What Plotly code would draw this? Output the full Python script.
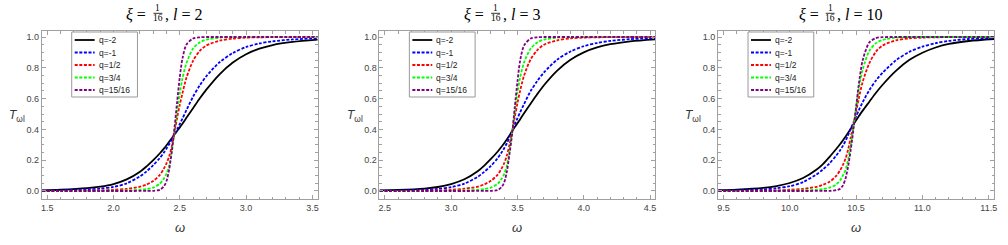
import plotly.graph_objects as go

W, H = 1008, 245

# ---------------- data ----------------
q_labels = ["q=-2", "q=-1", "q=1/2", "q=3/4", "q=15/16"]
l_values = [2, 3, 10]

omega_l2 = [1.46, 1.6, 1.8, 1.9, 2.0, 2.1, 2.2, 2.25, 2.3, 2.35, 2.38, 2.4, 2.42, 2.44, 2.46,
            2.48, 2.5, 2.52, 2.55, 2.6, 2.65, 2.7, 2.8, 2.9, 3.0, 3.1, 3.2, 3.35, 3.54]
T_l2_qm2 = [0.004, 0.008, 0.018, 0.028, 0.045, 0.075, 0.125, 0.16, 0.2, 0.245, 0.275, 0.297, 0.32, 0.343,
            0.367, 0.39, 0.413, 0.437, 0.475, 0.537, 0.6, 0.658, 0.758, 0.834, 0.888, 0.924, 0.948, 0.968, 0.983]
T_l2_qm1 = [0.002, 0.004, 0.01, 0.016, 0.026, 0.05, 0.095, 0.128, 0.168, 0.215, 0.25, 0.276, 0.303, 0.335,
            0.367, 0.4, 0.435, 0.47, 0.525, 0.612, 0.685, 0.745, 0.836, 0.896, 0.935, 0.958, 0.972, 0.984, 0.992]
T_l2_q12 = [0.0, 0.0005, 0.002, 0.004, 0.008, 0.014, 0.028, 0.042, 0.065, 0.105, 0.145, 0.18, 0.225, 0.29,
            0.38, 0.475, 0.56, 0.635, 0.735, 0.845, 0.91, 0.945, 0.976, 0.99, 0.996, 0.998, 0.999, 1.0, 1.0]
T_l2_q34 = [0.0, 0.0, 0.0005, 0.001, 0.002, 0.004, 0.008, 0.013, 0.022, 0.048, 0.08, 0.112, 0.165, 0.255,
            0.385, 0.52, 0.635, 0.73, 0.83, 0.925, 0.965, 0.983, 0.996, 0.999, 1.0, 1.0, 1.0, 1.0, 1.0]
T_l2_q1516 = [0.0, 0.0, 0.0, 0.0, 0.0, 0.0, 0.0002, 0.0005, 0.001, 0.008, 0.03, 0.065, 0.14, 0.26,
              0.41, 0.58, 0.74, 0.86, 0.95, 0.99, 0.998, 1.0, 1.0, 1.0, 1.0, 1.0, 1.0, 1.0, 1.0]

omega_l3 = [2.46, 2.6, 2.8, 2.9, 3.0, 3.1, 3.2, 3.25, 3.3, 3.35, 3.38, 3.4, 3.42, 3.44, 3.46,
            3.48, 3.5, 3.52, 3.55, 3.6, 3.65, 3.7, 3.8, 3.9, 4.0, 4.1, 4.2, 4.35, 4.54]
T_l3_qm2 = [0.004, 0.007, 0.016, 0.026, 0.045, 0.076, 0.128, 0.165, 0.208, 0.255, 0.287, 0.31, 0.335, 0.36,
            0.39, 0.415, 0.44, 0.465, 0.505, 0.568, 0.63, 0.687, 0.782, 0.852, 0.9, 0.932, 0.953, 0.972, 0.985]
T_l3_qm1 = [0.002, 0.003, 0.008, 0.014, 0.025, 0.048, 0.092, 0.124, 0.163, 0.212, 0.25, 0.278, 0.31, 0.348,
            0.39, 0.432, 0.472, 0.51, 0.565, 0.65, 0.715, 0.77, 0.853, 0.906, 0.94, 0.961, 0.975, 0.986, 0.993]
T_l3_q12 = [0.0, 0.0005, 0.002, 0.004, 0.008, 0.015, 0.028, 0.043, 0.066, 0.105, 0.145, 0.18, 0.23, 0.3,
            0.385, 0.48, 0.57, 0.65, 0.75, 0.855, 0.915, 0.95, 0.978, 0.991, 0.996, 0.998, 0.999, 1.0, 1.0]
T_l3_q34 = [0.0, 0.0, 0.0005, 0.001, 0.002, 0.004, 0.008, 0.013, 0.022, 0.046, 0.078, 0.11, 0.165, 0.26,
            0.38, 0.52, 0.64, 0.735, 0.835, 0.925, 0.965, 0.983, 0.996, 0.999, 1.0, 1.0, 1.0, 1.0, 1.0]
T_l3_q1516 = [0.0, 0.0, 0.0, 0.0, 0.0, 0.0, 0.0002, 0.0005, 0.001, 0.006, 0.025, 0.055, 0.125, 0.24,
              0.37, 0.545, 0.71, 0.845, 0.945, 0.99, 0.998, 1.0, 1.0, 1.0, 1.0, 1.0, 1.0, 1.0, 1.0]

omega_l10 = [9.46, 9.6, 9.8, 9.9, 10.0, 10.1, 10.2, 10.25, 10.3, 10.35, 10.38, 10.4, 10.42, 10.44, 10.46,
             10.48, 10.5, 10.52, 10.55, 10.6, 10.65, 10.7, 10.8, 10.9, 11.0, 11.1, 11.2, 11.35, 11.54]
T_l10_qm2 = [0.005, 0.009, 0.02, 0.032, 0.052, 0.084, 0.138, 0.175, 0.222, 0.273, 0.305, 0.328, 0.352, 0.378,
             0.405, 0.432, 0.46, 0.485, 0.522, 0.58, 0.638, 0.69, 0.78, 0.85, 0.898, 0.932, 0.955, 0.974, 0.987]
T_l10_qm1 = [0.002, 0.004, 0.01, 0.018, 0.031, 0.058, 0.107, 0.14, 0.18, 0.23, 0.265, 0.293, 0.325, 0.363,
             0.405, 0.445, 0.485, 0.523, 0.578, 0.655, 0.718, 0.768, 0.848, 0.903, 0.937, 0.96, 0.975, 0.987, 0.994]
T_l10_q12 = [0.0, 0.0005, 0.002, 0.004, 0.008, 0.014, 0.027, 0.04, 0.06, 0.098, 0.135, 0.168, 0.21, 0.27,
             0.35, 0.43, 0.515, 0.6, 0.71, 0.83, 0.905, 0.945, 0.978, 0.991, 0.996, 0.998, 0.999, 1.0, 1.0]
T_l10_q34 = [0.0, 0.0, 0.0005, 0.001, 0.002, 0.004, 0.008, 0.013, 0.022, 0.042, 0.07, 0.1, 0.135, 0.205,
             0.3, 0.415, 0.54, 0.66, 0.79, 0.91, 0.96, 0.981, 0.996, 0.999, 1.0, 1.0, 1.0, 1.0, 1.0]
T_l10_q1516 = [0.0, 0.0, 0.0, 0.0, 0.0, 0.0, 0.0002, 0.0005, 0.001, 0.005, 0.015, 0.035, 0.08, 0.16,
               0.27, 0.40, 0.545, 0.69, 0.85, 0.965, 0.993, 0.999, 1.0, 1.0, 1.0, 1.0, 1.0, 1.0, 1.0]

x_ticks_l2 = [1.5, 2.0, 2.5, 3.0, 3.5]
x_ticks_l3 = [2.5, 3.0, 3.5, 4.0, 4.5]
x_ticks_l10 = [9.5, 10.0, 10.5, 11.0, 11.5]
y_ticks = [0.0, 0.2, 0.4, 0.6, 0.8, 1.0]

# ---------------- styling ----------------
colors = ["#000000", "#0000ff", "#ff0000", "#00ff00", "#800080"]
dashes = ["solid", "3px,1.6px", "3px,1.6px", "3px,1.6px", "3px,1.6px"]
FRAME = "#a0a0a0"
TICKC = "#444444"
SANS = "Liberation Sans"
SERIF = "Liberation Serif"

panels = [
    dict(l=l_values[0], omega=omega_l2, T=[T_l2_qm2, T_l2_qm1, T_l2_q12, T_l2_q34, T_l2_q1516],
         xticks=x_ticks_l2, fl=41, tshift=0),
    dict(l=l_values[1], omega=omega_l3, T=[T_l3_qm2, T_l3_qm1, T_l3_q12, T_l3_q34, T_l3_q1516],
         xticks=x_ticks_l3, fl=380, tshift=0),
    dict(l=l_values[2], omega=omega_l10, T=[T_l10_qm2, T_l10_qm1, T_l10_q12, T_l10_q34, T_l10_q1516],
         xticks=x_ticks_l10, fl=720, tshift=-4),
]
FW = 277
FT, FB = 31, 199


def px(xp):
    return xp / W


def py(yp):
    return 1 - yp / H


fig = go.Figure()
shapes = []
annotations = []

for i, p in enumerate(panels):
    sfx = "" if i == 0 else str(i + 1)
    for j in range(len(q_labels)):
        fig.add_trace(go.Scatter(
            x=p["omega"], y=p["T"][j], mode="lines", name=q_labels[j],
            line=dict(color=colors[j], width=1.8, dash=dashes[j], shape="spline", smoothing=0.8),
            xaxis="x" + sfx, yaxis="y" + sfx, showlegend=False, hoverinfo="skip"))

    xt = p["xticks"]
    step = xt[1] - xt[0]
    pad = 0.02 * (xt[-1] - xt[0])
    fl = p["fl"]
    fig.layout["xaxis" + sfx] = dict(
        domain=[px(fl), px(fl + FW)], range=[xt[0] - pad, xt[-1] + pad], anchor="y" + sfx,
        showline=True, linecolor=FRAME, linewidth=1, mirror="ticks",
        ticks="inside", ticklen=4, tickcolor=FRAME, tickwidth=1,
        tickmode="array", tickvals=xt, ticktext=[f"{v:.1f}" for v in xt],
        minor=dict(tickmode="linear", tick0=xt[0], dtick=step / 5, ticks="inside", ticklen=2.5,
                   tickcolor=FRAME, tickwidth=1, showgrid=False),
        showgrid=False, zeroline=False,
        tickfont=dict(family=SANS, size=9, color=TICKC))
    fig.layout["yaxis" + sfx] = dict(
        domain=[py(FB), py(FT)], range=[-0.052, 1.039], anchor="x" + sfx,
        showline=True, linecolor=FRAME, linewidth=1, mirror="ticks",
        ticks="inside", ticklen=4, tickcolor=FRAME, tickwidth=1,
        tickmode="array", tickvals=y_ticks, ticktext=[f"{v:.1f}" for v in y_ticks],
        minor=dict(tickmode="linear", tick0=0, dtick=0.05, ticks="inside", ticklen=2.5,
                   tickcolor=FRAME, tickwidth=1, showgrid=False),
        showgrid=False, zeroline=False,
        tickfont=dict(family=SANS, size=9, color=TICKC))

    # axis labels
    annotations.append(dict(text="<i>T</i><sub>ωl</sub>", x=px(fl - 35), y=py(116), xref="paper", yref="paper",
                            xanchor="left", yanchor="middle", showarrow=False,
                            font=dict(family=SANS, size=12, color="#333")))
    annotations.append(dict(text="<i>ω</i>", x=px(fl + FW / 2), y=py(227), xref="paper", yref="paper",
                            xanchor="center", yanchor="middle", showarrow=False,
                            font=dict(family=SANS, size=13, color="#333")))

    # title: ξ = 1/16, l = ...
    ts = p["tshift"]
    tfont = dict(family=SERIF, size=16, color="#000")
    annotations.append(dict(text="<i>ξ</i> = ", x=px(fl + 111 + ts), y=py(14), xref="paper", yref="paper",
                            xanchor="right", yanchor="middle", showarrow=False, font=tfont))
    annotations.append(dict(text="1", x=px(fl + 116.5 + ts), y=py(8.3), xref="paper", yref="paper",
                            xanchor="center", yanchor="middle", showarrow=False,
                            font=dict(family=SERIF, size=9.5, color="#000")))
    annotations.append(dict(text="16", x=px(fl + 116.5 + ts), y=py(18.2), xref="paper", yref="paper",
                            xanchor="center", yanchor="middle", showarrow=False,
                            font=dict(family=SERIF, size=9.5, color="#000")))
    shapes.append(dict(type="line", xref="paper", yref="paper", x0=px(fl + 112 + ts), x1=px(fl + 121 + ts),
                       y0=py(13.3), y1=py(13.3), line=dict(color="#000", width=0.8)))
    annotations.append(dict(text=f", <i>l</i> = {p['l']}", x=px(fl + 121.5 + ts), y=py(14), xref="paper",
                            yref="paper", xanchor="left", yanchor="middle", showarrow=False, font=tfont))

    # legend box
    lx0, lx1, ly0, ly1 = fl + 30, fl + 96, 32, 97
    shapes.append(dict(type="rect", xref="paper", yref="paper", x0=px(lx0), x1=px(lx1), y0=py(ly1), y1=py(ly0),
                       line=dict(color="#999999", width=1), fillcolor="white", layer="above"))
    for j, lab in enumerate(q_labels):
        ry = 40 + j * 12.5
        shapes.append(dict(type="line", xref="paper", yref="paper", x0=px(fl + 33), x1=px(fl + 53),
                           y0=py(ry), y1=py(ry), layer="above",
                           line=dict(color=colors[j], width=1.8, dash=dashes[j])))
        annotations.append(dict(text=lab, x=px(fl + 55), y=py(ry), xref="paper", yref="paper",
                                xanchor="left", yanchor="middle", showarrow=False,
                                font=dict(family=SANS, size=8.5, color="#222")))

fig.update_layout(
    width=W, height=H, autosize=False,
    margin=dict(l=0, r=0, t=0, b=0),
    paper_bgcolor="white", plot_bgcolor="white",
    showlegend=False, shapes=shapes, annotations=annotations,
    font=dict(family=SANS),
)

fig.write_html("out.html", config={"displayModeBar": False},
               post_script="document.body.style.margin='0';document.body.style.overflow='hidden';")
